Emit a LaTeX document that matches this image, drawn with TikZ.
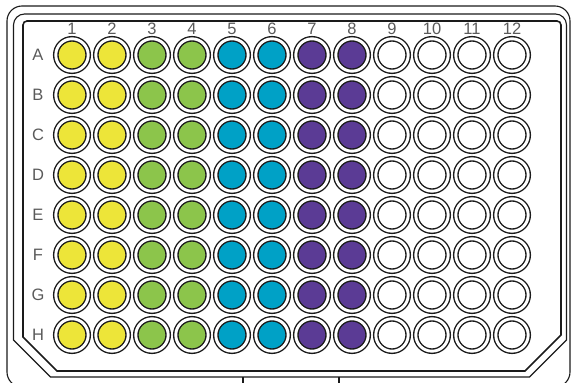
\documentclass[tikz,border=0pt]{standalone}
\usepackage{fontspec}
\newfontfamily\labfont{Liberation Sans}
\definecolor{wy}{HTML}{EDE539}
\definecolor{wg}{HTML}{8CC54B}
\definecolor{wb}{HTML}{00A1C6}
\definecolor{wp}{HTML}{5B3B95}
\definecolor{ink}{HTML}{1A1A1A}
\definecolor{labink}{HTML}{5A5A5A}
\begin{document}
\begin{tikzpicture}[x=1pt,y=-1pt,
  frame/.style={draw=ink, line width=1.1pt},
  innerframe/.style={draw=ink, line width=1.6pt},
  wellbox/.style={circle, inner sep=0pt, minimum size=32.4pt, draw=ink, line width=1.4pt, double=white, double distance=2.9pt},
  lab/.style={font=\labfont\fontsize{16.5}{17}\selectfont, text=labink, inner sep=0pt}]
\useasboundingbox (0,0) rectangle (571,383);
\begin{scope}
\clip (0,0) rectangle (571,383);
% outer outline
\draw[frame, rounded corners=15pt] (7,6) rectangle (570,387);
% middle outline
\draw[frame] (13.5,340) -- (13.5,25) .. controls (13.5,18.9) and (18.4,14) .. (24.5,14)
  -- (555.5,14) .. controls (561.6,14) and (566.5,18.9) .. (566.5,25)
  -- (566.5,340) -- (529.5,377) -- (50.5,377) -- cycle;
% tab
\draw[frame] (243,377) -- (243,387);
\draw[frame] (339,377) -- (339,387);
% inner outline
\draw[innerframe] (23,337) -- (23,25) .. controls (23,22.8) and (24.8,21) .. (27,21)
  -- (557,21) .. controls (559.2,21) and (561,22.8) .. (561,25)
  -- (561,335) -- (525,371) -- (57,371) -- cycle;
\end{scope}
% column labels
\foreach \c in {1,...,12} {
  \node[lab] (col\c) at ({72+40*(\c-1)},29) {\c};
}
% rows of wells
\foreach \r [count=\i from 0] in {A,B,C,D,E,F,G,H} {
  \node[lab] (row\r) at (38,{55+40*\i}) {\r};
  \foreach \c/\col in {1/wy,2/wy,3/wg,4/wg,5/wb,6/wb,7/wp,8/wp,9/white,10/white,11/white,12/white} {
    \node[wellbox, fill=\col] (w\r\c) at ({72+40*(\c-1)},{55+40*\i}) {};
  }
}
\end{tikzpicture}
\end{document}
